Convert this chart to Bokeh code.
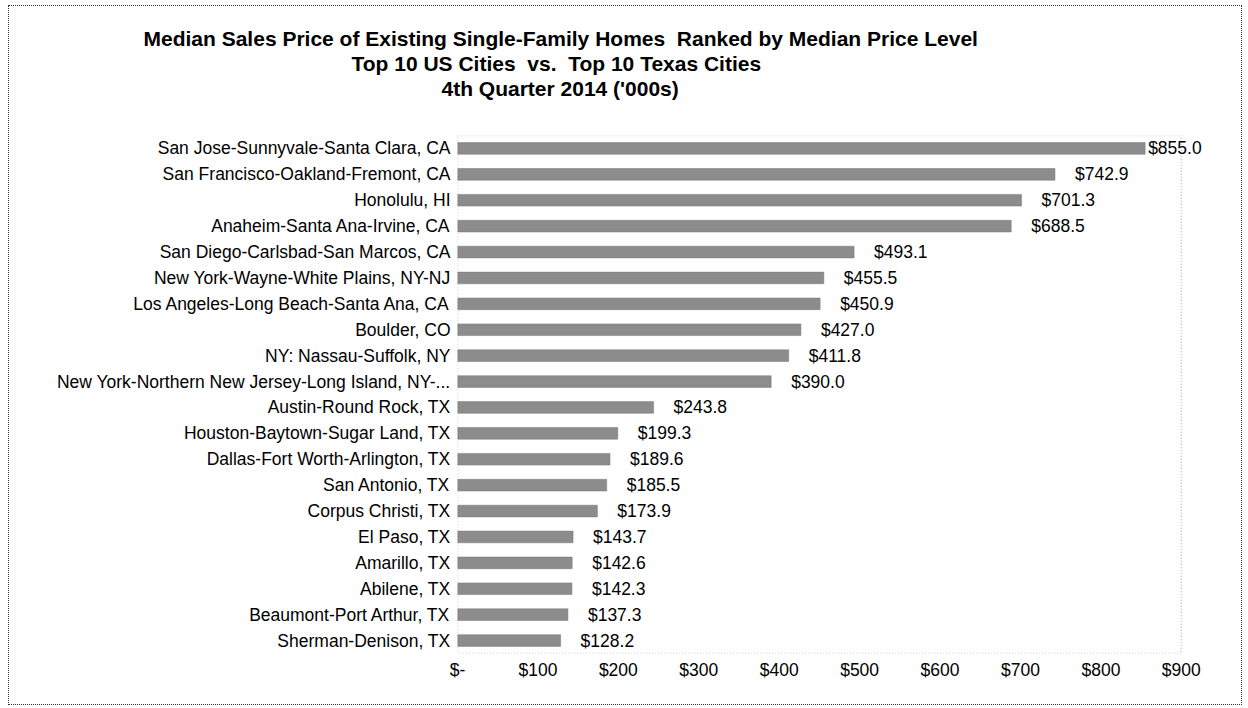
from bokeh.plotting import figure
from bokeh.models import (ColumnDataSource, Title, LabelSet, FactorRange, Range1d,
                          FixedTicker, BoxAnnotation)
from bokeh.core.properties import value
from bokeh.embed import file_html
from bokeh.resources import INLINE

cities = [
    "San Jose-Sunnyvale-Santa Clara, CA",
    "San Francisco-Oakland-Fremont, CA",
    "Honolulu, HI",
    "Anaheim-Santa Ana-Irvine, CA",
    "San Diego-Carlsbad-San Marcos, CA",
    "New York-Wayne-White Plains, NY-NJ",
    "Los Angeles-Long Beach-Santa Ana, CA",
    "Boulder, CO",
    "NY: Nassau-Suffolk, NY",
    "New York-Northern New Jersey-Long Island, NY-...",
    "Austin-Round Rock, TX",
    "Houston-Baytown-Sugar Land, TX",
    "Dallas-Fort Worth-Arlington, TX",
    "San Antonio, TX",
    "Corpus Christi, TX",
    "El Paso, TX",
    "Amarillo, TX",
    "Abilene, TX",
    "Beaumont-Port Arthur, TX",
    "Sherman-Denison, TX",
]
prices = [855.0, 742.9, 701.3, 688.5, 493.1, 455.5, 450.9, 427.0, 411.8, 390.0,
          243.8, 199.3, 189.6, 185.5, 173.9, 143.7, 142.6, 142.3, 137.3, 128.2]
x_ticks = [0, 100, 200, 300, 400, 500, 600, 700, 800, 900]
x_tick_labels = ["$-", "$100", "$200", "$300", "$400", "$500", "$600", "$700", "$800", "$900"]
title_lines = [
    "Median Sales Price of Existing Single-Family Homes\u00a0 Ranked by Median Price Level",
    "Top 10 US Cities\u00a0 vs.\u00a0 Top 10 Texas Cities",
    "4th Quarter 2014 ('000s)",
]

FONT = "Liberation Sans"
FS = "17.5px"
labels = ["$%.1f" % v for v in prices]
src = ColumnDataSource(dict(city=cities, price=prices, label=labels))
src_top = ColumnDataSource(dict(city=cities[:1], price=prices[:1], label=labels[:1]))
src_rest = ColumnDataSource(dict(city=cities[1:], price=prices[1:], label=labels[1:]))

axis_max = x_ticks[-1]
p = figure(
    y_range=FactorRange(factors=list(reversed(cities))),
    x_range=Range1d(0, 940),
    frame_width=756, frame_height=518,
    min_border_left=448, min_border_right=28, min_border_top=129, min_border_bottom=51,
    output_backend="svg", toolbar_location=None,
)
p.styles = {"border": "1px dotted #333333", "margin-left": "8px", "margin-top": "5px"}

p.hbar(y="city", right="price", left=0, height=0.45, source=src,
       fill_color="#8c8c8c", line_color="#777777", line_width=0.5)

# plot-area border (axis 0..900)
p.add_layout(BoxAnnotation(left=0, right=axis_max, fill_alpha=0, fill_color=None,
                           line_color="#333333", line_dash="1 2", line_width=1.5))
p.outline_line_color = None

p.add_layout(LabelSet(x="price", y="city", text="label", source=src_top, x_offset=3,
                      text_align="left", text_baseline="middle", text_font=value(FONT),
                      text_font_size=value(FS), text_color="black"))
p.add_layout(LabelSet(x="price", y="city", text="label", source=src_rest, x_offset=20,
                      text_align="left", text_baseline="middle", text_font=value(FONT),
                      text_font_size=value(FS), text_color="black"))

p.xgrid.visible = False
p.ygrid.visible = False

p.xaxis.ticker = FixedTicker(ticks=x_ticks)
p.xaxis.major_label_overrides = {t: l for t, l in zip(x_ticks, x_tick_labels)}
for ax in (p.xaxis[0], p.yaxis[0]):
    ax.axis_line_color = None
    ax.major_tick_line_color = None
    ax.minor_tick_line_color = None
    ax.major_tick_out = 0
    ax.major_tick_in = 0
    ax.minor_tick_out = 0
    ax.major_label_text_font = FONT
    ax.major_label_text_font_size = FS
    ax.major_label_text_color = "black"
p.xaxis.major_label_standoff = 6
p.yaxis.major_label_standoff = 7

# titles stacked from the frame outward: spacer, line 3, line 2, line 1
p.add_layout(Title(text=" ", text_font=FONT, text_font_size="10px", standoff=23), "above")
title_offsets = [-314, -106, -16]
for line, off in reversed(list(zip(title_lines, title_offsets))):
    p.add_layout(Title(text=line, align="left", offset=off, standoff=0,
                       text_font=FONT, text_font_size="21px", text_font_style="bold",
                       text_color="black"), "above")

open("out.html", "w").write(file_html(p, INLINE))
